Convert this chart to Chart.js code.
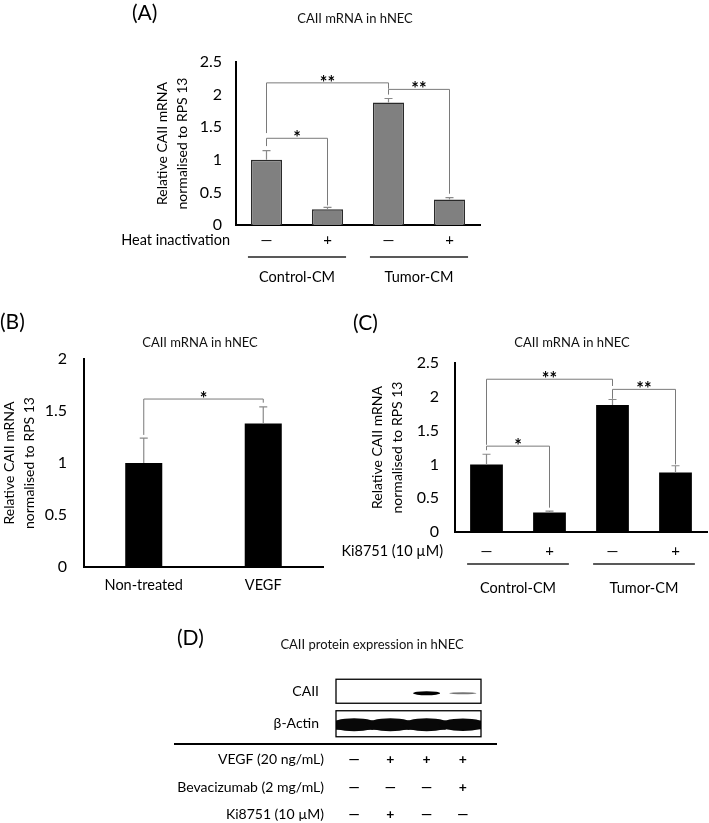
<!DOCTYPE html>
<html>
<head>
<meta charset="utf-8">
<script src="https://cdn.jsdelivr.net/npm/chart.js@4.4.1/dist/chart.umd.min.js"></script>
<style>
  html, body { margin: 0; padding: 0; background: #fff; }
  body { width: 709px; height: 823px; position: relative; overflow: hidden; }
  canvas { position: absolute; }
</style>
</head>
<body>
<canvas id="panelA" style="left:0px;top:0px" width="709" height="300"></canvas>
<canvas id="panelB" style="left:0px;top:300px" width="340" height="330"></canvas>
<canvas id="panelC" style="left:340px;top:300px" width="369" height="330"></canvas>
<canvas id="panelD" style="left:0px;top:625px" width="709" height="198"></canvas>
<script>
// (A) heat inactivation
const groupsA = ["Control-CM", "Tumor-CM"];
const heatA = ["—", "+", "—", "+"];
const valuesA = [1.0, 0.24, 1.88, 0.39];
const errorsA = [0.14, 0.03, 0.06, 0.03];
// [bar from, bar to, bracket level, left leg end, right leg end, label]
const sigA = [
  [0, 1, 1.33, 1.21, 0.3, "*"],
  [0, 2, 2.18, 1.41, 2.09, "**"],
  [2, 3, 2.08, 2.0, 0.48, "**"],
];
const yTicksA = ["0", "0.5", "1", "1.5", "2", "2.5"];

// (B) VEGF
const labelsB = ["Non-treated", "VEGF"];
const valuesB = [1.0, 1.38];
const errorsB = [0.24, 0.16];
const sigB = [[0, 1, 1.615, 1.27, 1.58, "*"]];
const yTicksB = ["0", "0.5", "1", "1.5", "2"];

// (C) Ki8751
const groupsC = ["Control-CM", "Tumor-CM"];
const kiC = ["—", "+", "—", "+"];
const valuesC = [1.0, 0.29, 1.88, 0.88];
const errorsC = [0.15, 0.02, 0.08, 0.1];
const sigC = [
  [0, 1, 1.27, 1.21, 0.36, "*"],
  [0, 2, 2.26, 1.29, 2.16, "**"],
  [2, 3, 2.11, 1.97, 1.0, "**"],
];
const yTicksC = ["0", "0.5", "1", "1.5", "2", "2.5"];

// (D) western blot
const lanesD = ["1", "2", "3", "4"];
const blotRows = ["CAII", "β-Actin"];
const caiiBand = [0, 0, 1, 0.35];
const actinBand = [1, 1, 1, 0.95];
const treatRows = ["VEGF (20 ng/mL)", "Bevacizumab (2 mg/mL)", "Ki8751 (10 µM)"];
const vegfD = ["—", "+", "+", "+"];
const bevD = ["—", "—", "—", "+"];
const kiD = ["—", "+", "—", "—"];

const yTitle = ["Relative CAII mRNA", "normalised to RPS 13"];
const mainTitle = "CAII mRNA in hNEC";

Chart.defaults.font.family = "Lato, 'Open Sans', sans-serif";
Chart.defaults.color = "#000";

function barPanel(id, o) {
  const extras = {
    id: "extras",
    afterDatasetsDraw(chart) {
      const ctx = chart.ctx;
      const y = chart.scales.y;
      const area = chart.chartArea;
      const bars = chart.getDatasetMeta(0).data;
      ctx.save();

      // error bars (upper only)
      ctx.strokeStyle = "#8a8a8a";
      ctx.lineWidth = 1.2;
      o.values.forEach((v, i) => {
        const x = bars[i].x;
        const y0 = y.getPixelForValue(v);
        const y1 = y.getPixelForValue(v + o.errors[i]);
        ctx.beginPath();
        ctx.moveTo(x, y0);
        ctx.lineTo(x, y1);
        ctx.moveTo(x - 4, y1);
        ctx.lineTo(x + 4, y1);
        ctx.stroke();
      });

      // significance brackets
      ctx.strokeStyle = "#7a7a7a";
      ctx.lineWidth = 1;
      ctx.fillStyle = "#000";
      ctx.font = "bold 18px Lato";
      ctx.textAlign = "center";
      ctx.textBaseline = "alphabetic";
      o.sig.forEach(([a, b, h, la, lb, txt]) => {
        const xa = bars[a].x;
        const xb = bars[b].x;
        const yh = y.getPixelForValue(h);
        ctx.beginPath();
        ctx.moveTo(xa, y.getPixelForValue(la));
        ctx.lineTo(xa, yh);
        ctx.lineTo(xb, yh);
        ctx.lineTo(xb, y.getPixelForValue(lb));
        ctx.stroke();
        ctx.fillText(txt, (xa + xb) / 2, yh + 6);
      });

      // panel letter + title
      ctx.textBaseline = "middle";
      ctx.textAlign = "left";
      ctx.font = "21px Lato";
      ctx.fillText(o.letter, o.letterPos[0], o.letterPos[1]);
      ctx.textAlign = "center";
      ctx.font = "13px Lato";
      ctx.fillStyle = "#111";
      ctx.fillText(mainTitle, o.titlePos[0], o.titlePos[1]);
      ctx.fillStyle = "#000";

      // treatment row label
      if (o.rowLabel) {
        ctx.textAlign = "right";
        ctx.font = "14.5px Lato";
        ctx.fillText(o.rowLabel, o.rowLabelPos[0], o.rowLabelPos[1]);
      }

      // group underlines
      if (o.groups) {
        ctx.strokeStyle = "#222";
        ctx.lineWidth = 1.5;
        ctx.textAlign = "center";
        ctx.font = "14.5px Lato";
        o.groups.forEach((g, k) => {
          const b1 = bars[2 * k];
          const b2 = bars[2 * k + 1];
          const x1 = b1.x - b1.width / 2 - 3;
          const x2 = b2.x + b2.width / 2 + 3;
          const gy = area.bottom + o.groupLine;
          ctx.beginPath();
          ctx.moveTo(x1, gy);
          ctx.lineTo(x2, gy);
          ctx.stroke();
          ctx.fillText(g, (x1 + x2) / 2, area.bottom + o.groupText);
        });
      }
      ctx.restore();
    },
  };

  return new Chart(document.getElementById(id), {
    type: "bar",
    data: {
      labels: o.labels,
      datasets: [
        {
          data: o.values,
          backgroundColor: o.fill,
          borderColor: o.edge,
          borderWidth: o.edgeWidth,
          barPercentage: o.barPct,
          categoryPercentage: 1,
        },
      ],
    },
    options: {
      responsive: false,
      animation: false,
      layout: { padding: o.pad },
      plugins: { legend: { display: false }, tooltip: { enabled: false } },
      scales: {
        x: {
          grid: { display: false, drawTicks: false },
          border: { color: "#000", width: 2 },
          ticks: { font: { size: o.xFont }, padding: o.xPad, color: "#000" },
          afterFit: (s) => { s.height = o.xH; },
        },
        y: {
          min: 0,
          max: o.yMax,
          grid: { display: false, drawTicks: false },
          border: { color: "#000", width: 2 },
          ticks: {
            stepSize: 0.5,
            font: { size: 16 },
            padding: o.yPad,
            color: "#000",
            callback: (v, i) => o.yTicks[i],
          },
          title: {
            display: true,
            text: yTitle,
            font: { size: 14, lineHeight: 1.4 },
            padding: { top: o.titlePad, bottom: 0 },
            color: "#000",
          },
          afterFit: (s) => { s.width = o.yW; },
        },
      },
    },
    plugins: [extras],
  });
}

barPanel("panelA", {
  labels: heatA, values: valuesA, errors: errorsA, sig: sigA, yTicks: yTicksA, yMax: 2.5,
  fill: "#808080", edge: "#2a2a2a", edgeWidth: 1.5, barPct: 0.51,
  pad: { left: 140, top: 62, right: 229, bottom: 45 }, yW: 96, xH: 30, yPad: 14, xPad: 6, xFont: 15, titlePad: 13,
  letter: "(A)", letterPos: [132, 13], titlePos: [355, 19],
  rowLabel: "Heat inactivation", rowLabelPos: [230, 240],
  groups: groupsA, groupLine: 32, groupText: 52,
});

barPanel("panelB", {
  labels: labelsB, values: valuesB, errors: errorsB, sig: sigB, yTicks: yTicksB, yMax: 2,
  fill: "#000", edge: "#000", edgeWidth: 0, barPct: 0.31,
  pad: { left: 0, top: 59, right: 17, bottom: 23 }, yW: 84, xH: 40, yPad: 17, xPad: 10, xFont: 14.5, titlePad: 0,
  letter: "(B)", letterPos: [0, 22], titlePos: [200, 43],
});

barPanel("panelC", {
  labels: kiC, values: valuesC, errors: errorsC, sig: sigC, yTicks: yTicksC, yMax: 2.5,
  fill: "#000", edge: "#000", edgeWidth: 0, barPct: 0.52,
  pad: { left: 0, top: 63, right: 2, bottom: 68 }, yW: 115, xH: 30, yPad: 16, xPad: 10, xFont: 15, titlePad: 28,
  letter: "(C)", letterPos: [13, 23], titlePos: [232, 43],
  rowLabel: "Ki8751 (10 µM)", rowLabelPos: [103, 251],
  groups: groupsC, groupLine: 32, groupText: 56,
});

// blot bands as points placed on the lane / row category scales
const bandPoints = [];
lanesD.forEach((lane, i) => {
  bandPoints.push({ x: lane, y: blotRows[0], v: caiiBand[i] });
  bandPoints.push({ x: lane, y: blotRows[1], v: actinBand[i] });
});
const lineH = 27.5;

const blotPlugin = {
  id: "blot",
  afterDatasetsDraw(chart) {
    const ctx = chart.ctx;
    const area = chart.chartArea;
    const yS = chart.scales.y;
    const laneW = (area.right - area.left) / lanesD.length;
    ctx.save();

    // bands (clipped to the membrane area)
    ctx.beginPath();
    ctx.rect(area.left, area.top, area.right - area.left, area.bottom - area.top);
    ctx.clip();
    chart.getDatasetMeta(0).data.forEach((pt, j) => {
      const raw = bandPoints[j];
      if (!raw.v) return;
      const actin = raw.y === blotRows[1];
      if (actin) {
        ctx.filter = "blur(0.7px)";
        ctx.fillStyle = "#080808";
        ctx.beginPath();
        ctx.ellipse(pt.x, pt.y + 1, laneW * 0.66, 6.5 * raw.v, 0, 0, Math.PI * 2);
        ctx.fill();
        ctx.fillRect(pt.x - laneW / 2 - 1, pt.y - 3, laneW + 2, 9 * raw.v);
      } else {
        ctx.filter = "blur(0.6px)";
        ctx.fillStyle = "rgba(0,0,0," + (0.3 + 0.7 * raw.v) + ")";
        ctx.beginPath();
        ctx.ellipse(pt.x, pt.y + 2, laneW * 0.37, Math.max(0.9, 2 * raw.v), 0, 0, Math.PI * 2);
        ctx.fill();
      }
    });
    ctx.filter = "none";
    ctx.restore();
    ctx.save();

    // membrane frames
    ctx.strokeStyle = "#000";
    ctx.lineWidth = 1.3;
    [24, 26].forEach((fh, r) => {
      const cy = yS.getPixelForValue(r);
      ctx.clearRect(area.left - 1, cy + fh / 2, area.right - area.left + 2, r === 0 ? 8 : 0);
      ctx.strokeRect(area.left, cy - fh / 2, area.right - area.left, fh);
    });

    // separator line
    ctx.lineWidth = 2;
    ctx.beginPath();
    ctx.moveTo(174, 119);
    ctx.lineTo(497, 119);
    ctx.stroke();

    // treatment labels
    ctx.fillStyle = "#000";
    ctx.font = "14px Lato";
    ctx.textAlign = "right";
    ctx.textBaseline = "middle";
    treatRows.forEach((t, k) => {
      ctx.fillText(t, 324, area.bottom + 6 + lineH / 2 + k * lineH);
    });

    // letter + title
    ctx.textAlign = "left";
    ctx.font = "21px Lato";
    ctx.fillText("(D)", 177, 13);
    ctx.textAlign = "center";
    ctx.font = "13px Lato";
    ctx.fillStyle = "#111";
    ctx.fillText("CAII protein expression in hNEC", 372, 20);
    ctx.restore();
  },
};

new Chart(document.getElementById("panelD"), {
  type: "scatter",
  data: { datasets: [{ data: bandPoints, pointRadius: 0 }] },
  options: {
    responsive: false,
    animation: false,
    layout: { padding: { left: 150, top: 50, right: 228, bottom: 3 } },
    plugins: { legend: { display: false }, tooltip: { enabled: false } },
    scales: {
      x: {
        type: "category",
        labels: lanesD,
        offset: true,
        grid: { display: false, drawTicks: false },
        border: { display: false },
        ticks: {
          font: { size: 14, weight: "bold", lineHeight: lineH / 14 },
          padding: 6,
          color: "#000",
          callback: (v, i) => [vegfD[i], bevD[i], kiD[i]],
        },
        afterFit: (s) => { s.height = 80; },
      },
      y: {
        type: "category",
        labels: blotRows,
        offset: true,
        grid: { display: false, drawTicks: false },
        border: { display: false },
        ticks: { font: { size: 14 }, padding: 17, color: "#000" },
        afterFit: (s) => { s.width = 186; },
      },
    },
  },
  plugins: [blotPlugin],
});
</script>
</body>
</html>
